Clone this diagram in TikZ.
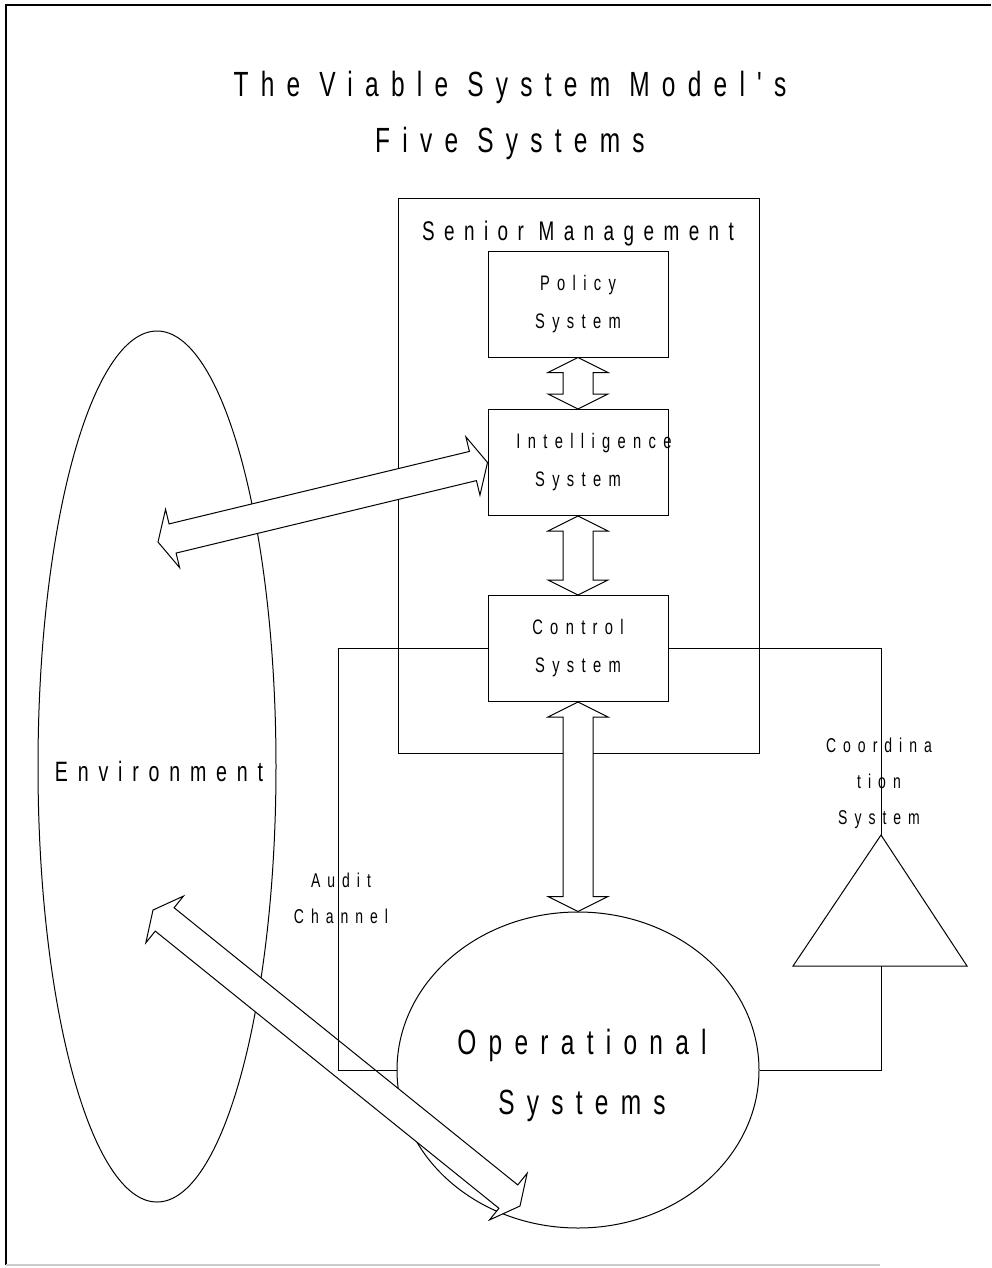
\documentclass[tikz,border=0pt]{standalone}
\usepackage{fontspec}
\newfontfamily\vsmfont[FakeStretch=0.7,LetterSpace=35]{Liberation Sans}
\usetikzlibrary{shapes.geometric,calc}

% hollow double-headed arrow between two points
\newcommand\hlen{7.5pt}
\newcommand\swid{7.5pt}
\newcommand\hwid{15pt}
\newcommand\vsmarrow[2]{%
  \draw[fatarrow] (#1)
    -- ($(#1)!\hlen!(#2)!\hwid!90:(#2)$)
    -- ($(#1)!\hlen!(#2)!\swid!90:(#2)$)
    -- ($(#2)!\hlen!(#1)!\swid!270:(#1)$)
    -- ($(#2)!\hlen!(#1)!\hwid!270:(#1)$)
    -- (#2)
    -- ($(#2)!\hlen!(#1)!\hwid!90:(#1)$)
    -- ($(#2)!\hlen!(#1)!\swid!90:(#1)$)
    -- ($(#1)!\hlen!(#2)!\swid!270:(#2)$)
    -- ($(#1)!\hlen!(#2)!\hwid!270:(#2)$)
    -- cycle;}

\begin{document}
\begin{tikzpicture}[
    x=0.5pt, y=-0.5pt, line width=0.5pt,
    title/.style={align=center, font={\vsmfont\fontsize{17.5}{28}\selectfont}},
    biglabel/.style={align=center, font={\vsmfont\fontsize{17.5}{30}\selectfont}},
    grouplabel/.style={font={\vsmfont\fontsize{13.5}{16}\selectfont}},
    envlabel/.style={font={\vsmfont\fontsize{14}{17}\selectfont}},
    sysbox/.style={rectangle, draw, inner sep=0pt, minimum width=90pt, minimum height=53pt, align=center, font={\vsmfont\fontsize{10.5}{19}\selectfont}},
    smalllabel/.style={align=center, font={\vsmfont\fontsize{10}{18}\selectfont}},
    fatarrow/.style={draw, fill=white, line join=miter}
]
\useasboundingbox (0,0) rectangle (991,1268);

% Frame
\draw[line width=1.2pt] (6,1265) -- (6,5) -- (991,5);
\draw[gray!40, line width=0.8pt] (6,1265) -- (880,1265);

% Title
\node[title] (head) at (510,115) {The Viable System Model's\\Five Systems};

% Environment and operations
\node[ellipse, draw, inner sep=0pt, minimum width=119pt, minimum height=435.5pt] (env) at (157,766.5) {};
\node[envlabel] (envlabel) at (159,771) {Environment};
\node[ellipse, draw, inner sep=0pt, minimum width=181pt, minimum height=158pt] (ops) at (578,1070) {};
\node[biglabel] (opslabel) at (582,1075) {Operational\\Systems};

% Senior management block
\node[rectangle, draw, minimum width=180.5pt, minimum height=277.5pt] (senior) at (578.5,475.5) {};
\node[grouplabel] (seniorlabel) at (578,234) {Senior Management};
\node[sysbox] (pol) at (578,304) {Policy\\System};
\node[sysbox] (int) at (578,462.5) {\hspace*{8pt}Intelligence\hspace*{-8pt}\\System};
\node[sysbox] (ctl) at (578,648.5) {Control\\System};

% Coordination triangle
\coordinate (coordtop) at (881,835);
\coordinate (coordbase) at (881,966);
\draw (coordtop) -- (793,966) -- (967,966) -- cycle;

% Arrow ends in the environment
\coordinate (envin) at (158,542);
\coordinate (envout) at (153,910);
\coordinate (opsin) at (520,1206);

% Double arrows
\vsmarrow{pol.south}{int.north}
\vsmarrow{int.south}{ctl.north}
\vsmarrow{ctl.south}{ops.north}
\vsmarrow{envin}{int.west}
\vsmarrow{envout}{opsin}

% Audit and coordination channels
\coordinate (auditx) at (338,0);
\draw (ctl.west) -- (ctl.west -| auditx) |- (ops.west);
\draw (ctl.east) -| (coordtop);
\draw (coordbase) |- (ops.east);
\node[smalllabel] (audit) at (341,898) {Audit\\Channel};
\node[smalllabel] (coordlabel) at (879,783) {Coordina\\tion\\System};

\end{tikzpicture}
\end{document}
